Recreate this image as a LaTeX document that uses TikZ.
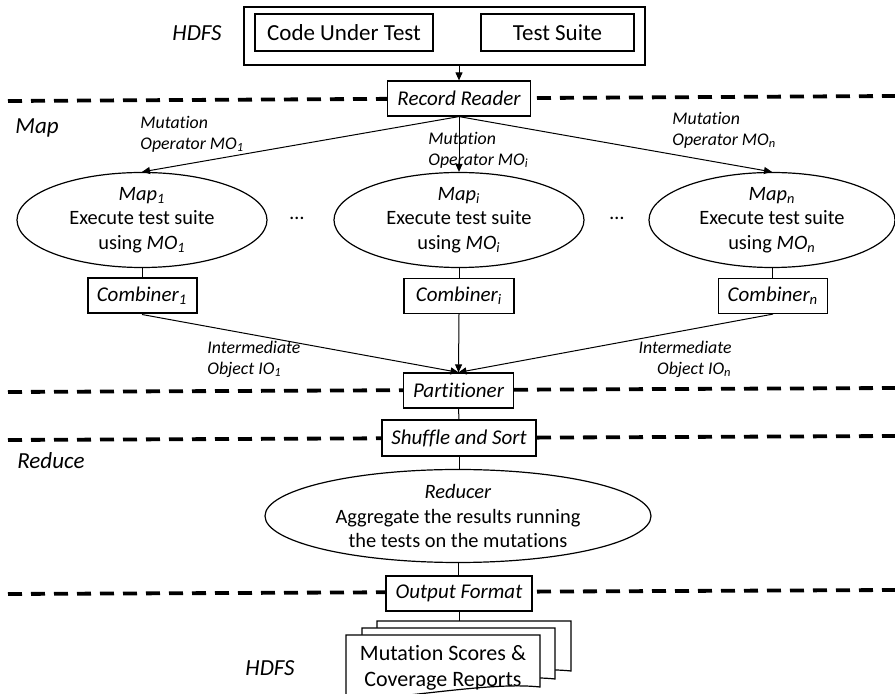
\documentclass[tikz,border=0pt]{standalone}
\usepackage{fontspec}
\setmainfont{Carlito}[Ligatures=NoCommon]
\usetikzlibrary{shapes.geometric, arrows.meta, positioning}

\newcommand{\idx}[1]{\textsubscript{\itshape #1}}
% one sheet of the output stack: left, right, top, bottom at the right edge
\newcommand{\reportsheet}[4]{%
  \draw[sheet] (#1,{#4+14}) -- (#1,#3) -- (#2,#3) -- (#2,#4)
    .. controls ({#2-45},{#4-5}) and ({#1+80},{#4+8}) .. (#1,{#4+14}) -- cycle;}

\tikzset{
  stagebox/.style={draw, fill=white, line width=0.6pt, minimum height=17.5pt, inner sep=1pt,
    font=\fontsize{10.5}{12.6}\selectfont\itshape},
  filebox/.style={draw, fill=white, line width=0.6pt, minimum height=18.5pt, inner sep=1pt,
    font=\fontsize{11.5}{14}\selectfont},
  task/.style={draw, ellipse, fill=white, line width=0.6pt, inner sep=0pt, align=center,
    font=\fontsize{10.2}{12.2}\selectfont},
  edgelabel/.style={font=\fontsize{8.9}{10.6}\selectfont\itshape, inner sep=0pt},
  phase/.style={font=\fontsize{11.5}{14}\selectfont\itshape, inner sep=0pt},
  flow/.style={-{Triangle[length=4pt,width=3.5pt]}, line width=0.5pt},
  link/.style={line width=0.5pt},
  divider/.style={line width=1.9pt, dash pattern=on 7pt off 4.5pt},
  sheet/.style={fill=white, line width=0.6pt}
}

\begin{document}
\begin{tikzpicture}[x=0.5pt, y=-0.5pt]
  \useasboundingbox (0,0) rectangle (895,694);

  % stage separators
  \draw[divider] (8,101) -- (895,96);
  \draw[divider] (8,392) -- (895,388);
  \draw[divider] (8,440) -- (895,436);
  \draw[divider] (8,594) -- (895,590);

  % input files
  \node[draw, line width=0.6pt, minimum width=200.5pt, minimum height=29pt] (hdfs) at (444.5,36) {};
  \node[filebox, minimum width=89pt] (code) at (344,32.5) {Code Under Test};
  \node[filebox, minimum width=76.5pt] (suite) at (557.5,32.5) {Test Suite};
  \node[phase] (hdfsin) at (197,33) {HDFS};

  \node[stagebox, minimum width=71.5pt] (reader) at (459,98.5) {Record Reader};
  \draw[flow] (hdfs.south -| reader.north) -- (reader.north);

  % map phase
  \node[phase, anchor=west] (mapphase) at (15,128) {Map};

  \node[task, minimum width=125pt, minimum height=47.5pt] (map1) at (142,220)
    {\textit{Map}\idx{1}\\Execute test suite\\using \textit{MO}\idx{1}};
  \node[task, minimum width=125pt, minimum height=47.5pt] (mapi) at (459,220)
    {\textit{Map}\idx{i}\\Execute test suite\\using \textit{MO}\idx{i}};
  \node[task, minimum width=123pt, minimum height=47.5pt] (mapn) at (772,220)
    {\textit{Map}\idx{n}\\Execute test suite\\using \textit{MO}\idx{n}};
  \node[font=\fontsize{10.2}{12.2}\selectfont] (dots1) at (297,218) {\ldots};
  \node[font=\fontsize{10.2}{12.2}\selectfont] (dots2) at (617,218) {\ldots};

  \draw[flow] (reader.south) -- (map1.north);
  \draw[flow] (reader.south) -- (mapi.north);
  \draw[flow] (reader.south) -- (mapn.north);

  \node[edgelabel, align=left, anchor=west] (mo1) at (140,134.5) {Mutation\\Operator MO\textsubscript{1}};
  \node[edgelabel, align=left, anchor=west] (moi) at (428,150) {Mutation\\Operator MO\textsubscript{i}};
  \node[edgelabel, align=left, anchor=west] (mon) at (672,130) {Mutation\\Operator MO\textsubscript{n}};

  \node[stagebox, minimum width=54.5pt, line width=1pt] (comb1) at (142,296) {Combiner\idx{1}};
  \node[stagebox, minimum width=55pt] (combi) at (459,296) {Combiner\idx{i}};
  \node[stagebox, minimum width=54.5pt] (combn) at (773,296) {Combiner\idx{n}};
  \draw[link] (map1.south) -- (map1.south |- comb1.north);
  \draw[link] (mapi.south) -- (mapi.south |- combi.north);
  \draw[link] (mapn.south) -- (mapn.south |- combn.north);

  \node[stagebox, minimum width=55pt] (part) at (458.5,390.5) {Partitioner};
  \draw[flow] (comb1.south) -- (part.north);
  \draw[flow] (combi.south) -- (part.north);
  \draw[flow] (combn.south) -- (part.north);

  \node[edgelabel, align=left, anchor=west] (io1) at (207,359.5) {Intermediate\\Object IO\textsubscript{1}};
  \node[edgelabel, align=right, anchor=east] (ion) at (732,359.5) {Intermediate\\Object IO\textsubscript{n}};

  % reduce phase
  \node[stagebox, minimum width=77pt, minimum height=18pt] (shuffle) at (459,438) {Shuffle and Sort};
  \draw[link] (part.south) -- (shuffle.north);

  \node[phase, anchor=west] (reducephase) at (17,461) {Reduce};

  \node[task, minimum width=193pt, minimum height=46.5pt] (reducer) at (458,516)
    {\textit{Reducer}\\Aggregate the results running\\the tests on the mutations};
  \draw[link] (shuffle.south) -- (shuffle.south |- reducer.north);

  \node[stagebox, minimum width=73pt] (output) at (459,593.5) {Output Format};
  \draw[link] (reducer.south) -- (reducer.south |- output.north);

  % output files on HDFS
  \reportsheet{377}{571}{621}{671}
  \reportsheet{362}{555}{628}{679}
  \reportsheet{346}{540}{635}{687}
  \node[align=center, font=\fontsize{11}{13}\selectfont] (reports) at (443,668) {Mutation Scores \&\\Coverage Reports};
  \coordinate (stack) at (459,621);
  \draw[link] (output.south) -- (stack);

  \node[phase] (hdfsout) at (270,668) {HDFS};
\end{tikzpicture}
\end{document}
